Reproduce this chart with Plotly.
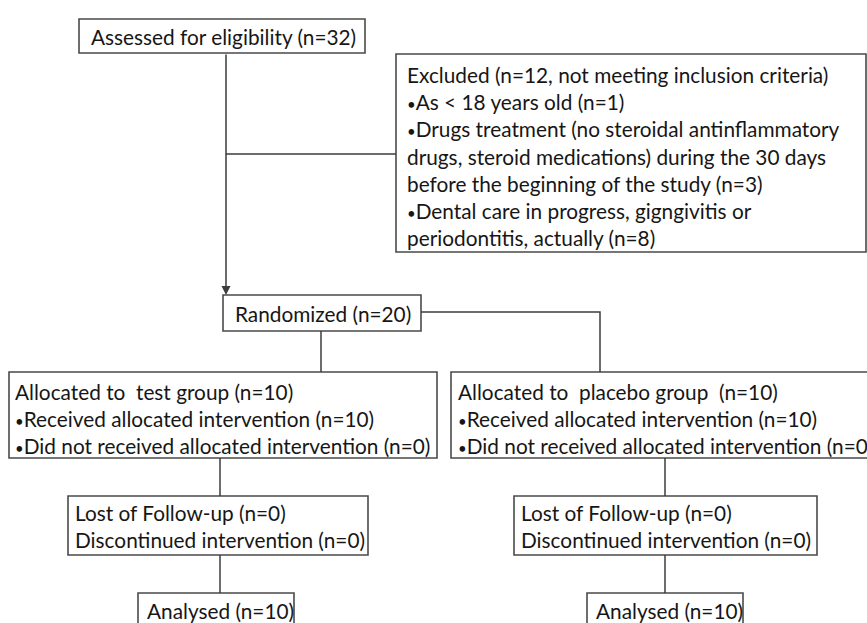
import plotly.graph_objects as go

# ---------------- content (text of the flow chart) ----------------
BUL = '<span style="font-size:15px">•</span>'

box_names = ["assessed", "excluded", "randomized", "test", "placebo",
             "lost_test", "lost_placebo", "analysed_test", "analysed_placebo"]

box_lines = {
    "assessed": ["Assessed for eligibility (n=32)"],
    "excluded": [
        "Excluded (n=12, not meeting inclusion criteria)",
        BUL + "As &lt; 18 years old (n=1)",
        BUL + "Drugs treatment (no steroidal antinflammatory",
        "drugs, steroid medications) during the 30 days",
        "before the beginning of the study (n=3)",
        BUL + "Dental care in progress, gigngivitis or",
        "periodontitis, actually (n=8)",
    ],
    "randomized": ["Randomized (n=20)"],
    "test": [
        "Allocated to \u00a0test group (n=10)",
        BUL + "Received allocated intervention (n=10)",
        BUL + "Did not received allocated intervention (n=0)",
    ],
    "placebo": [
        "Allocated to \u00a0placebo group \u00a0(n=10)",
        BUL + "Received allocated intervention (n=10)",
        BUL + "Did not received allocated intervention (n=0)",
    ],
    "lost_test": ["Lost of Follow-up (n=0)", "Discontinued intervention (n=0)"],
    "lost_placebo": ["Lost of Follow-up (n=0)", "Discontinued intervention (n=0)"],
    "analysed_test": ["Analysed (n=10)"],
    "analysed_placebo": ["Analysed (n=10)"],
}

# ---------------- layout geometry (pixel space of the canvas) ----------------
W, H = 867, 623
box_rect = {  # x0, y0, x1, y1
    "assessed": (79, 19, 365, 53),
    "excluded": (396, 54, 866, 252),
    "randomized": (223, 295, 421, 331),
    "test": (9, 372, 437, 458),
    "placebo": (451, 372, 890, 458),
    "lost_test": (68, 496, 368, 555),
    "lost_placebo": (514, 496, 817, 555),
    "analysed_test": (138, 593, 294, 650),
    "analysed_placebo": (587, 593, 743, 650),
}
text_x = {"assessed": 89, "excluded": 405, "randomized": 233, "test": 13,
          "placebo": 456, "lost_test": 73, "lost_placebo": 519,
          "analysed_test": 145, "analysed_placebo": 594}
first_line_y = {"assessed": 36, "excluded": 74.5, "randomized": 313, "test": 391.5,
                "placebo": 391.5, "lost_test": 512, "lost_placebo": 512,
                "analysed_test": 610, "analysed_placebo": 610}
line_gap = 27.2

connectors = [
    [(226, 154), (396, 154)],
    [(421, 312), (600, 312), (600, 372)],
    [(321, 331), (321, 372)],
    [(220, 458), (220, 496)],
    [(220, 555), (220, 593)],
    [(665, 458), (665, 496)],
    [(665, 555), (665, 593)],
]
arrow = ((226, 53), (226, 295))

LINE_COL = "#3c3c3c"
BOX_COL = "#4a4a4a"
TXT_COL = "#161616"
FONT = dict(family="Lato, 'Noto Sans', sans-serif", size=20.8, color=TXT_COL)

fig = go.Figure()
shapes = []
annotations = []

for name in box_names:
    x0, y0, x1, y1 = box_rect[name]
    shapes.append(dict(type="rect", xref="x", yref="y", x0=x0, y0=y0, x1=x1, y1=y1,
                       line=dict(color=BOX_COL, width=1.6), fillcolor="white", layer="below"))
    for i, t in enumerate(box_lines[name]):
        annotations.append(dict(x=text_x[name], y=first_line_y[name] + i * line_gap,
                                xref="x", yref="y", text=t, showarrow=False,
                                xanchor="left", yanchor="middle", font=FONT))

for path in connectors:
    d = "M " + " L ".join(f"{x},{y}" for x, y in path)
    shapes.append(dict(type="path", xref="x", yref="y", path=d,
                       line=dict(color=LINE_COL, width=1.5)))

(ax0, ay0), (ax1, ay1) = arrow
annotations.append(dict(x=ax1, y=ay1, ax=ax0, ay=ay0, xref="x", yref="y",
                        axref="x", ayref="y", text="", showarrow=True,
                        arrowhead=2, arrowsize=1.2, arrowwidth=1.5,
                        arrowcolor=LINE_COL, standoff=0))

fig.update_layout(
    width=W, height=H, margin=dict(l=0, r=0, t=0, b=0),
    paper_bgcolor="white", plot_bgcolor="white", showlegend=False,
    xaxis=dict(range=[0, W], visible=False, fixedrange=True),
    yaxis=dict(range=[H, 0], visible=False, fixedrange=True),
    shapes=shapes, annotations=annotations,
)

fig.write_html("out.html", config={"displayModeBar": False},
               post_script="document.body.style.margin='0px';document.body.style.overflow='hidden';")
